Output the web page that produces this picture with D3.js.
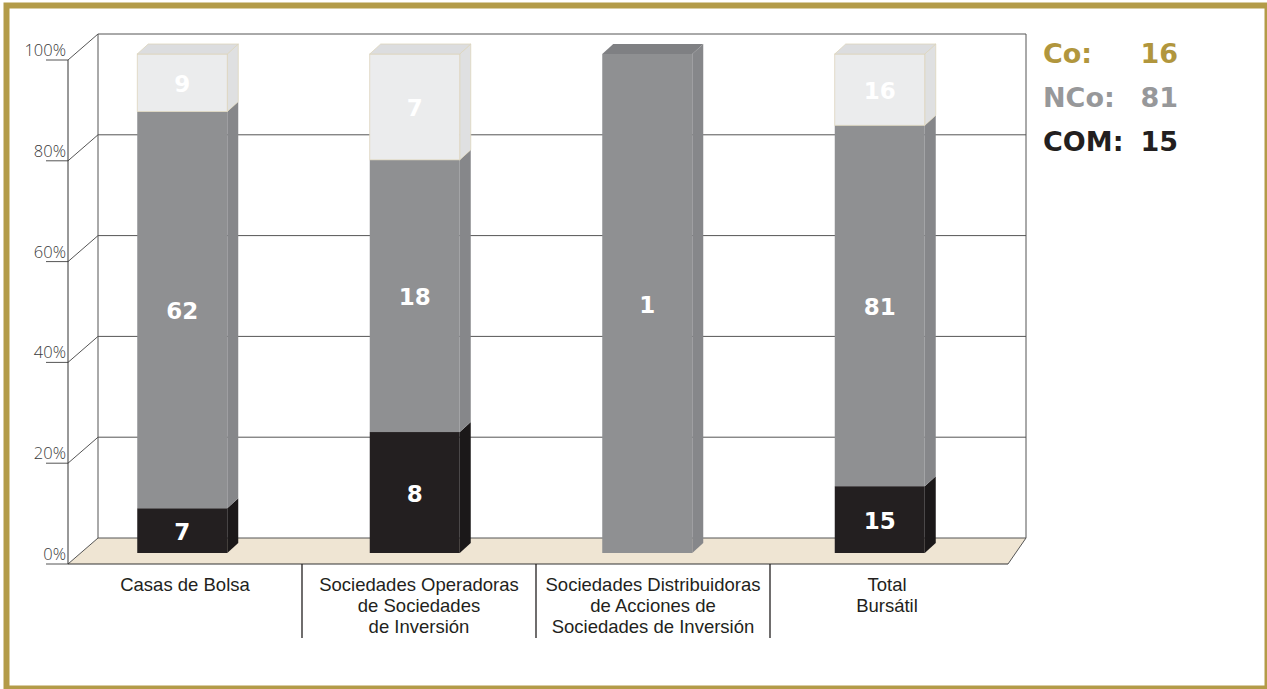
<!DOCTYPE html>
<html><head><meta charset="utf-8">
<script src="https://cdn.jsdelivr.net/npm/d3@7"></script>
<style>body{margin:0;background:#fff}svg{display:block}</style>
</head><body>
<svg id="chart" width="1267" height="689"></svg>
<script>
const categories = [
  ["Casas de Bolsa"],
  ["Sociedades Operadoras", "de Sociedades", "de Inversión"],
  ["Sociedades Distribuidoras", "de Acciones de", "Sociedades de Inversión"],
  ["Total", "Bursátil"]
];
const comValues = [7, 8, 0, 15];
const ncoValues = [62, 18, 1, 81];
const coValues  = [9, 7, 0, 16];
const yTicks = [0, 20, 40, 60, 80, 100];
const yTickLabels = ["0%", "20%", "40%", "60%", "80%", "100%"];
const legendLabels = ["Co:", "NCo:", "COM:"];
const legendValues = [16, 81, 15];

const svg = d3.select("#chart");
const C = {
  gold: "#b1963d", frame: "#b39b48", floor: "#efe5d3",
  com: "#231f20", comSide: "#1b1819", comTop: "#2a2627",
  nco: "#8f9092", ncoSide: "#86878a", ncoTop: "#7f8083",
  co: "#ebeced", coSide: "#dfe0e1", coTop: "#dcdddf",
  grid: "#555"
};

// frame
svg.append("rect").attr("x", 6.5).attr("y", 5.5).attr("width", 1261).attr("height", 683)
  .attr("fill", "none").attr("stroke", C.frame).attr("stroke-width", 6);

// scales
const yFront = d3.scaleLinear().domain([0, 100]).range([564, 60]);
const yBack  = d3.scaleLinear().domain([0, 100]).range([538, 34]);
const yBar   = d3.scaleLinear().domain([0, 100]).range([553, 54]);
const idx = categories.map((d, i) => i);
const xCat = d3.scaleBand().domain(idx).range([68, 1004]);
const xBar = d3.scaleBand().domain(idx).range([66, 996]);
const frontL = 68, backL = 98, backR = 1026, frontR = 1008;
const barW = 90, dX = 11, dY = 10;

// floor
const fy0 = yFront(0), by0 = yBack(0);
svg.append("path")
  .attr("d", `M${frontL},${fy0}L${backL},${by0}L${backR},${by0}L${frontR},${fy0}Z`)
  .attr("fill", C.floor).attr("stroke", "none");
svg.append("path").attr("d", `M${frontR},${fy0}L${backR},${by0}`)
  .attr("stroke", C.grid).attr("fill", "none");

// back wall gridlines
const g = svg.append("g").attr("stroke", C.grid).attr("stroke-width", 1).attr("fill", "none");
yTicks.forEach(t => {
  g.append("line").attr("x1", backL).attr("x2", backR).attr("y1", yBack(t)).attr("y2", yBack(t));
  g.append("line").attr("x1", frontL).attr("x2", backL).attr("y1", yFront(t)).attr("y2", yBack(t));
  g.append("line").attr("x1", 46).attr("x2", frontL).attr("y1", yFront(t)).attr("y2", yFront(t));
});
g.append("line").attr("x1", backL).attr("x2", backL).attr("y1", yBack(100)).attr("y2", yBack(0));
g.append("line").attr("x1", backR).attr("x2", backR).attr("y1", yBack(100)).attr("y2", yBack(0));
g.append("line").attr("x1", frontL).attr("x2", frontL).attr("y1", yFront(100)).attr("y2", yFront(0)).attr("stroke", "#333");
g.append("line").attr("x1", frontL).attr("x2", frontR).attr("y1", fy0).attr("y2", fy0).attr("stroke", "#333");

// y labels
svg.append("g").selectAll("text").data(yTicks).join("text")
  .attr("x", 66).attr("y", t => yFront(t) - 4).attr("text-anchor", "end")
  .attr("font-family", "'Open Sans', sans-serif").attr("font-weight", 300)
  .attr("font-size", 16.5).attr("fill", "#3a3a3a").text((t, i) => yTickLabels[i]);

// separators
svg.append("g").selectAll("line").data(idx.slice(1)).join("line")
  .attr("x1", i => xCat(i)).attr("x2", i => xCat(i))
  .attr("y1", fy0).attr("y2", 638).attr("stroke", "#231f20").attr("stroke-width", 1.3);

// category labels
const catG = svg.append("g").attr("font-family", "'Liberation Sans', Arial, sans-serif").attr("font-size", 18.5).attr("fill", "#231f20");
categories.forEach((lines, i) => {
  lines.forEach((l, j) => catG.append("text").attr("text-anchor", "middle")
    .attr("x", xCat(i) + xCat.bandwidth() / 2).attr("y", 591 + j * 20.8).text(l));
});

// bars
const series = [
  {vals: comValues, f: C.com, s: C.comSide, t: C.comTop, stroke: "none"},
  {vals: ncoValues, f: C.nco, s: C.ncoSide, t: C.ncoTop, stroke: "none"},
  {vals: coValues, f: C.co, s: C.coSide, t: C.coTop, stroke: "#ddd5bd"}
];
const barG = svg.append("g");
idx.forEach(i => {
  const total = comValues[i] + ncoValues[i] + coValues[i];
  const x0 = xBar(i) + xBar.bandwidth() / 2 - barW / 2, x1 = x0 + barW;
  let cum = 0;
  const segs = [];
  series.forEach(s => {
    const v = s.vals[i];
    if (v <= 0) return;
    const p0 = cum / total * 100, p1 = (cum + v) / total * 100;
    cum += v;
    segs.push({s, v, yb: yBar(p0), yt: yBar(p1)});
  });
  segs.forEach((sg, k) => {
    const {s, yb, yt} = sg;
    barG.append("path")
      .attr("d", `M${x1},${yt}L${x1 + dX},${yt - dY}L${x1 + dX},${yb - dY}L${x1},${yb}Z`)
      .attr("fill", s.s).attr("stroke", s.stroke).attr("stroke-width", 0.8);
    barG.append("rect").attr("x", x0).attr("y", yt).attr("width", barW).attr("height", yb - yt)
      .attr("fill", s.f).attr("stroke", s.stroke).attr("stroke-width", 0.8);
    if (k === segs.length - 1) {
      barG.append("path")
        .attr("d", `M${x0},${yt}L${x0 + dX},${yt - dY}L${x1 + dX},${yt - dY}L${x1},${yt}Z`)
        .attr("fill", s.t).attr("stroke", s.stroke).attr("stroke-width", 0.8);
    }
    barG.append("text").attr("x", (x0 + x1) / 2).attr("y", (yt + yb) / 2 + 9)
      .attr("text-anchor", "middle").attr("font-family", "'DejaVu Sans', sans-serif")
      .attr("font-weight", "bold").attr("font-size", 23).attr("fill", "#fff").text(sg.v);
  });
});

// legend
const legColors = [C.gold, "#97989a", "#231f20"];
const lg = svg.append("g").attr("font-family", "'DejaVu Sans', sans-serif").attr("font-weight", "bold").attr("font-size", 27);
legendLabels.forEach((l, i) => {
  lg.append("text").attr("x", 1043).attr("y", 63 + i * 44).attr("fill", legColors[i]).text(l);
  lg.append("text").attr("x", 1178).attr("y", 63 + i * 44).attr("text-anchor", "end").attr("fill", legColors[i]).text(legendValues[i]);
});
</script>
</body></html>
